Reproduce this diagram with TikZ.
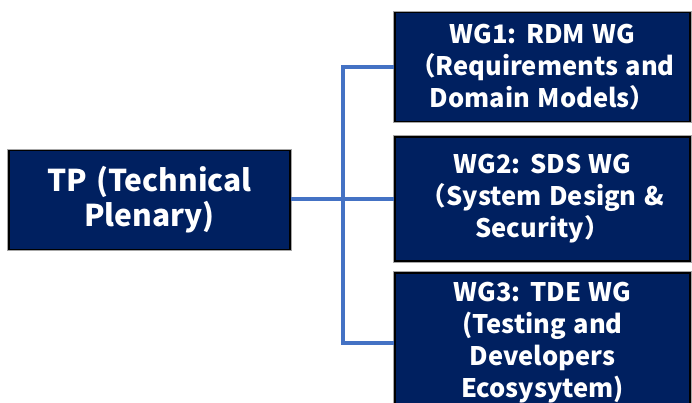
\documentclass[tikz,border=0pt]{standalone}
\usepackage{fontspec}
\setmainfont{Noto Sans CJK JP}[WordSpace=1.3]
\usetikzlibrary{calc}
\definecolor{navy}{HTML}{002060}
\definecolor{linkblue}{HTML}{4472C4}
\tikzset{
  unit/.style={draw=black, line width=1.6pt, fill=navy, text=white,
    font=\bfseries, align=center, inner sep=0pt,
    preaction={draw=black!35, line width=3.2pt}},
  link/.style={draw=linkblue, line width=3.4pt}
}
\begin{document}
\begin{tikzpicture}[x=1pt, y=-1pt]
  \useasboundingbox (0,0) rectangle (692,403);
  \begin{scope}
    \clip (0,0) rectangle (692,403);
    \node[unit, minimum width=281pt, minimum height=99pt,
      font=\bfseries\fontsize{30}{35}\selectfont] (tp) at (149.5,200)
      {TP (Technical\\Plenary)};
    \node[unit, minimum width=295pt, minimum height=109pt,
      font=\bfseries\fontsize{25.5}{32}\selectfont] (wg1) at (542.5,67)
      {WG1: RDM WG\\（Requirements and\\Domain Models）};
    \node[unit, minimum width=295pt, minimum height=124pt,
      font=\bfseries\fontsize{25.5}{32}\selectfont] (wg2) at (542.5,199)
      {WG2: SDS WG\\（System Design \&\\Security）};
    \node[unit, minimum width=295pt, minimum height=140pt,
      font=\bfseries\fontsize{25.5}{32}\selectfont] (wg3) at (542.5,343)
      {WG3: TDE WG\\(Testing and\\Developers\\Ecosysytem)};
    % tree connector: branch point on the vertical bus
    \coordinate (j) at (343,199);
    \draw[link] (tp.east |- j) -- (wg2.west |- j);
    \draw[link] (wg1.west) -| (j) |- (wg3.west);
  \end{scope}
\end{tikzpicture}
\end{document}
